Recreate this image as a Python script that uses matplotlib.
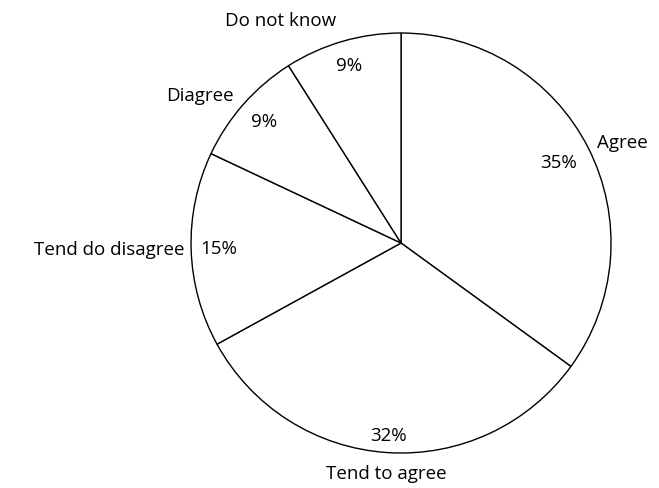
import numpy as np
import matplotlib.pyplot as plt

labels = ['Agree', 'Tend to agree', 'Tend do disagree', 'Diagree', 'Do not know']
values = [35, 32, 15, 9, 9]

plt.rcParams['font.family'] = ['Open Sans', 'DejaVu Sans']

fig = plt.figure(figsize=(6.59, 4.88), dpi=100)
ax = fig.add_axes([0.2102, -0.0359, 0.7967, 1.0758])

wedges, texts, autotexts = ax.pie(
    values, labels=labels, autopct='%1.0f%%', startangle=90, counterclock=False,
    colors=['white'] * len(values),
    wedgeprops=dict(edgecolor='black', linewidth=1.0),
    labeldistance=1.04, pctdistance=0.87,
    textprops=dict(fontsize=13.5, color='black'))

# nudge label distances a little to follow the original layout
label_dist = [1.05, 1.1, 1.03, 1.06, 1.1]
pct_dist = [0.84, 0.92, 0.87, 0.87, 0.88]
for w, t, a, ld, pd in zip(wedges, texts, autotexts, label_dist, pct_dist):
    ang = np.deg2rad((w.theta1 + w.theta2) / 2)
    t.set_position((ld * np.cos(ang), ld * np.sin(ang)))
    a.set_position((pd * np.cos(ang), pd * np.sin(ang)))
texts[1].set_ha('center')

ax.set_xlim(-1.25, 1.25)
ax.set_ylim(-1.25, 1.25)
ax.set_aspect('equal')

fig.savefig('out.png', dpi=100, facecolor='white')
